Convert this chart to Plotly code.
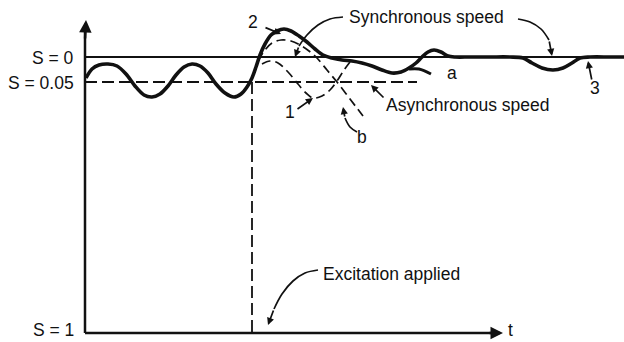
import plotly.graph_objects as go

W, H = 624, 342

# Diagram coordinates: t grows to the right, slip grows downward.
# Reference slip levels and their labels
slip_labels = ["S = 0", "S = 0.05", "S = 1"]
slip_levels = [57, 82, 333]

# Time axis extent and instant the excitation is applied
t_start = 85
t_end = 503
t_excite = 252
async_line_end = 417

# Rotor speed: slip oscillation at asynchronous speed, then pull-in (curve 2 -> 3)
main_t = [86, 92, 99, 108, 117, 126, 135, 144, 152, 160, 168, 176, 184, 192, 200,
          208, 216, 225, 234, 241, 247, 252, 256, 260, 265, 271, 277, 284, 291, 299,
          307, 315, 323, 332, 342, 352, 362, 372, 382, 392, 401, 409, 416, 422, 428,
          434, 441, 448, 455, 470, 490, 510, 523, 532, 542, 553, 563, 572, 580, 590,
          610, 624]
main_s = [78, 69, 65, 64, 66, 74, 86, 95, 97, 94, 86, 75, 67, 64, 66,
          73, 84, 93, 97, 94, 87, 78, 67, 55, 44, 35, 31, 29, 31, 36,
          42, 49, 55, 58, 60, 61, 63, 66, 70, 73, 72, 68, 63, 57, 52,
          50, 52, 56, 57, 57, 57, 57, 58, 63, 68, 70, 68, 63, 58, 57,
          57, 57]

# Curve a: keeps running asynchronously
branch_a_t = [409, 419, 431]
branch_a_s = [69, 69, 74]

# Curve 1: dips once more, then locks in
curve1_t = [262, 270, 278, 288, 298, 306, 313, 322, 330, 337, 344, 350]
curve1_s = [64, 61, 63, 72, 84, 93, 98, 96, 90, 81, 70, 62]

# Curve b: falls out of step
curveb_t = [258, 265, 272, 281, 291, 300, 309, 317, 327, 337, 350, 363]
curveb_s = [61, 50, 43, 40, 41, 45, 51, 58, 70, 82, 99, 116]

# Curved leader lines (the last point is the arrow tip)
sync_left_t = [343, 330, 318, 307, 299, 295]
sync_left_s = [17, 19, 25, 35, 46, 57]
sync_right_t = [518, 530, 541, 549, 552]
sync_right_s = [19, 22, 29, 40, 56]
excite_t = [318, 305, 293, 282, 274, 268]
excite_s = [270, 273, 281, 294, 309, 325]
b_leader_t = [357, 350, 345, 343]
b_leader_s = [132, 127, 118, 107]

INK = "#111111"
FONT = dict(family="Liberation Sans, Arial, Helvetica, sans-serif", size=17.5, color=INK)

fig = go.Figure()


def line(x, y, width, dash="solid", shape="spline", smoothing=1.0):
    fig.add_trace(go.Scatter(
        x=x, y=y, mode="lines", hoverinfo="skip", showlegend=False,
        line=dict(color=INK, width=width, dash=dash, shape=shape,
                  smoothing=smoothing if shape == "spline" else None),
    ))


# Axes
line([t_start, t_start], [slip_levels[2], 30], 2.5, shape="linear")
line([t_start, t_end - 10], [slip_levels[2], slip_levels[2]], 2.5, shape="linear")

# Synchronous level (S = 0) and asynchronous level (S = 0.05)
line([t_start, W], [slip_levels[0], slip_levels[0]], 1.8, shape="linear")
line([t_start, async_line_end], [slip_levels[1], slip_levels[1]], 1.8,
     dash="12px,5px", shape="linear")

# Excitation instant
line([t_excite, t_excite], [slip_levels[1], slip_levels[2]], 1.8,
     dash="12px,5px", shape="linear")

# Dashed alternatives 1 and b
line(curve1_t, curve1_s, 1.7, dash="9px,5px")
line(curveb_t, curveb_s, 1.7, dash="9px,5px")

# Main speed curve and branch a
line(main_t, main_s, 3.6, smoothing=0.9)
line(branch_a_t, branch_a_s, 3.0)

# Curved leaders
for xs, ys in [(sync_left_t, sync_left_s), (sync_right_t, sync_right_s),
               (excite_t, excite_s), (b_leader_t, b_leader_s)]:
    line(xs[:-1], ys[:-1], 1.7)

annotations = []


def arrow(x0, y0, x1, y1, width=1.7, size=0.85, head=2):
    annotations.append(dict(
        x=x1, y=y1, ax=x0, ay=y0, xref="x", yref="y", axref="x", ayref="y",
        text="", showarrow=True, arrowhead=head, arrowsize=size,
        arrowwidth=width, arrowcolor=INK,
    ))


# Axis arrowheads
arrow(t_start, 40, t_start + 1, 20, width=2.5, size=1.0)
arrow(t_end - 15, slip_levels[2], t_end, slip_levels[2], width=2.5, size=1.0)

# Leader arrowheads
for xs, ys in [(sync_left_t, sync_left_s), (sync_right_t, sync_right_s),
               (excite_t, excite_s), (b_leader_t, b_leader_s)]:
    arrow(xs[-2], ys[-2], xs[-1], ys[-1])
arrow(264, 27, 281, 34)           # 2
arrow(296, 110, 313, 98)          # 1
arrow(385, 99, 371, 85)           # asynchronous speed
arrow(592, 81, 588, 61)           # 3


def label(x, y, text, anchor="center"):
    annotations.append(dict(
        x=x, y=y, xref="x", yref="y", text=text, showarrow=False,
        xanchor=anchor, yanchor="middle", font=FONT,
    ))


for txt, lvl in zip(slip_labels[:2], slip_levels[:2]):
    label(76, lvl + 1, txt, anchor="right")
label(76, 330, slip_labels[2], anchor="right")
label(506, 330, "t", anchor="left")
label(426, 17, "Synchronous speed")
label(384, 105, "Asynchronous speed", anchor="left")
label(321, 274, "Excitation applied", anchor="left")
label(452, 73, "a")
label(362, 137, "b")
label(290, 112, "1")
label(253, 22, "2")
label(595, 88, "3")

fig.update_layout(
    width=W, height=H,
    margin=dict(l=0, r=0, t=0, b=0),
    paper_bgcolor="white", plot_bgcolor="white",
    xaxis=dict(range=[0, W], visible=False, fixedrange=True),
    yaxis=dict(range=[H, 0], visible=False, fixedrange=True),
    annotations=annotations,
    showlegend=False,
)

fig.write_html("out.html")
